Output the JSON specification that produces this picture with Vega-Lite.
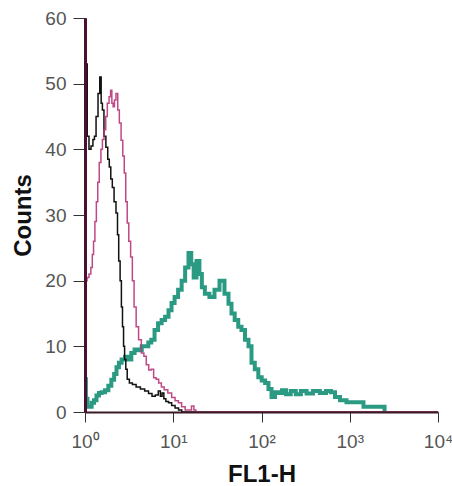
{
  "$schema": "https://vega.github.io/schema/vega-lite/v6.json",
  "autosize": {"type": "none"},
  "padding": {"left": 85, "top": 18, "right": 14, "bottom": 74},
  "width": 353,
  "height": 394,
  "background": "white",
  "config": {"view": {"stroke": null}, "font": "Liberation Sans"},
  "datasets": {
    "black": [
      {"fl": 1, "count": 0}, {"fl": 1, "count": 75}, {"fl": 1.04, "count": 53}, {"fl": 1.08, "count": 42}, {"fl": 1.14, "count": 40},
      {"fl": 1.2, "count": 40.5}, {"fl": 1.26, "count": 41.5}, {"fl": 1.3, "count": 42}, {"fl": 1.37, "count": 45}, {"fl": 1.44, "count": 48.5},
      {"fl": 1.5, "count": 51}, {"fl": 1.55, "count": 47}, {"fl": 1.6, "count": 46}, {"fl": 1.68, "count": 42}, {"fl": 1.77, "count": 40.3},
      {"fl": 1.85, "count": 38.5}, {"fl": 1.92, "count": 37.3}, {"fl": 2.0, "count": 35.5}, {"fl": 2.08, "count": 34.2}, {"fl": 2.19, "count": 32},
      {"fl": 2.3, "count": 30.3}, {"fl": 2.37, "count": 27}, {"fl": 2.45, "count": 23}, {"fl": 2.55, "count": 20}, {"fl": 2.62, "count": 16},
      {"fl": 2.7, "count": 13}, {"fl": 2.77, "count": 10}, {"fl": 2.85, "count": 8}, {"fl": 2.95, "count": 6.5}, {"fl": 3.07, "count": 5},
      {"fl": 3.3, "count": 4.4}, {"fl": 3.6, "count": 4.2}, {"fl": 4.0, "count": 3.8}, {"fl": 4.5, "count": 3.5}, {"fl": 5.0, "count": 3.2},
      {"fl": 5.5, "count": 2.8}, {"fl": 6.0, "count": 2.4}, {"fl": 6.54, "count": 2.6}, {"fl": 7.0, "count": 3.2}, {"fl": 7.3, "count": 2.4},
      {"fl": 7.65, "count": 2.9}, {"fl": 8.0, "count": 2.0}, {"fl": 8.5, "count": 1.6}, {"fl": 9.2, "count": 1.4}, {"fl": 10, "count": 1.0},
      {"fl": 11, "count": 0.6}, {"fl": 12, "count": 0.3}, {"fl": 13, "count": 0}, {"fl": 10000, "count": 0}
    ],
    "magenta": [
      {"fl": 1, "count": 0}, {"fl": 1, "count": 75}, {"fl": 1.03, "count": 20}, {"fl": 1.08, "count": 20.5}, {"fl": 1.14, "count": 21},
      {"fl": 1.19, "count": 22}, {"fl": 1.23, "count": 24}, {"fl": 1.27, "count": 26}, {"fl": 1.32, "count": 29}, {"fl": 1.37, "count": 32},
      {"fl": 1.42, "count": 35}, {"fl": 1.48, "count": 38}, {"fl": 1.55, "count": 40}, {"fl": 1.6, "count": 41.5}, {"fl": 1.685, "count": 43},
      {"fl": 1.75, "count": 45}, {"fl": 1.83, "count": 47}, {"fl": 1.92, "count": 48}, {"fl": 1.98, "count": 49}, {"fl": 2.05, "count": 47},
      {"fl": 2.12, "count": 46.5}, {"fl": 2.19, "count": 47.5}, {"fl": 2.3, "count": 48.5}, {"fl": 2.4, "count": 46}, {"fl": 2.5, "count": 44},
      {"fl": 2.63, "count": 41.4}, {"fl": 2.73, "count": 39}, {"fl": 2.84, "count": 36.4}, {"fl": 2.95, "count": 32}, {"fl": 3.07, "count": 28.8},
      {"fl": 3.2, "count": 26}, {"fl": 3.38, "count": 23.6}, {"fl": 3.5, "count": 20}, {"fl": 3.7, "count": 16}, {"fl": 3.9, "count": 13},
      {"fl": 4.2, "count": 11}, {"fl": 4.5, "count": 9}, {"fl": 4.8, "count": 8.5}, {"fl": 5.1, "count": 7.2}, {"fl": 5.45, "count": 6.4},
      {"fl": 5.8, "count": 6.5}, {"fl": 6.2, "count": 5.2}, {"fl": 6.6, "count": 5.0}, {"fl": 7.08, "count": 4.4}, {"fl": 7.6, "count": 3.8},
      {"fl": 8.2, "count": 3.4}, {"fl": 9.19, "count": 2.9}, {"fl": 10, "count": 2.2}, {"fl": 11, "count": 1.7}, {"fl": 11.9, "count": 1.4},
      {"fl": 13, "count": 0.8}, {"fl": 14.3, "count": 0.3}, {"fl": 15.5, "count": 0.3}, {"fl": 16.7, "count": 0.9}, {"fl": 17.6, "count": 0.3},
      {"fl": 18.5, "count": 0}, {"fl": 10000, "count": 0}
    ],
    "teal": [
      {"fl": 1, "count": 5}, {"fl": 1.05, "count": 2}, {"fl": 1.08, "count": 0.8}, {"fl": 1.15, "count": 0.8}, {"fl": 1.23, "count": 1.4},
      {"fl": 1.3, "count": 1.8}, {"fl": 1.4, "count": 2.5}, {"fl": 1.48, "count": 2.9}, {"fl": 1.6, "count": 3.0}, {"fl": 1.78, "count": 3.3},
      {"fl": 1.9, "count": 4}, {"fl": 2.08, "count": 4.9}, {"fl": 2.2, "count": 5.8}, {"fl": 2.35, "count": 6.8}, {"fl": 2.5, "count": 7.5},
      {"fl": 2.7, "count": 8}, {"fl": 3.0, "count": 8.4}, {"fl": 3.2, "count": 8.0}, {"fl": 3.5, "count": 9}, {"fl": 3.8, "count": 9.5},
      {"fl": 4.2, "count": 9.4}, {"fl": 4.6, "count": 10}, {"fl": 5.04, "count": 10}, {"fl": 5.4, "count": 10.6}, {"fl": 5.89, "count": 11},
      {"fl": 6.4, "count": 12.5}, {"fl": 7.08, "count": 13.5}, {"fl": 7.7, "count": 14}, {"fl": 8.49, "count": 14.5}, {"fl": 9.2, "count": 15.5},
      {"fl": 9.94, "count": 16.6}, {"fl": 10.8, "count": 17.5}, {"fl": 11.93, "count": 18.6}, {"fl": 13, "count": 20}, {"fl": 14.3, "count": 22},
      {"fl": 15.5, "count": 24.2}, {"fl": 16.5, "count": 22.5}, {"fl": 17.6, "count": 20.5}, {"fl": 19.1, "count": 23}, {"fl": 20.5, "count": 21},
      {"fl": 21.7, "count": 19}, {"fl": 24, "count": 18}, {"fl": 27.5, "count": 17.5}, {"fl": 31.3, "count": 18.6}, {"fl": 35.7, "count": 20},
      {"fl": 40.6, "count": 18}, {"fl": 44, "count": 16.5}, {"fl": 47.5, "count": 15}, {"fl": 52, "count": 14}, {"fl": 57.1, "count": 13},
      {"fl": 61.7, "count": 12.5}, {"fl": 68.5, "count": 11}, {"fl": 74.1, "count": 10}, {"fl": 80.1, "count": 7.5}, {"fl": 88, "count": 6.5},
      {"fl": 96.2, "count": 5.3}, {"fl": 105, "count": 4.8}, {"fl": 115, "count": 4.4}, {"fl": 125, "count": 3.5}, {"fl": 135, "count": 2.3},
      {"fl": 150, "count": 3.0}, {"fl": 162, "count": 2.9}, {"fl": 180, "count": 3.3}, {"fl": 200, "count": 2.7}, {"fl": 230, "count": 3.2},
      {"fl": 260, "count": 2.7}, {"fl": 300, "count": 3.2}, {"fl": 350, "count": 2.8}, {"fl": 420, "count": 3.2}, {"fl": 500, "count": 2.9},
      {"fl": 580, "count": 3.2}, {"fl": 646, "count": 3.0}, {"fl": 717, "count": 2.3}, {"fl": 839, "count": 1.8}, {"fl": 1006, "count": 1.5},
      {"fl": 1306, "count": 1.5}, {"fl": 1567, "count": 0.8}, {"fl": 2000, "count": 0.8}, {"fl": 2450, "count": 0.8}, {"fl": 2512, "count": 0}
    ]
  },
  "encoding": {
    "x": {
      "field": "fl", "type": "quantitative",
      "scale": {"type": "log", "domain": [1, 10000], "nice": false},
      "axis": {
        "title": "FL1-H", "titleFontSize": 24, "titleFontWeight": "bold", "titleColor": "#111", "titlePadding": 11,
        "values": [1, 10, 100, 1000, 10000], "grid": false, "zindex": 1,
        "labelExpr": "'10' + ['⁰','¹','²','³','⁴'][round(log(datum.value)/LN10)]",
        "labelFontSize": 19, "labelColor": "#555", "labelPadding": 10, "labelFlush": false,
        "tickSize": 10, "tickColor": "#333", "domainColor": "#3a1a25", "domainWidth": 2
      }
    },
    "y": {
      "field": "count", "type": "quantitative",
      "scale": {"domain": [0, 60], "nice": false},
      "axis": {
        "title": "Counts", "titleFontSize": 24, "titleFontWeight": "bold", "titleColor": "#111", "titlePadding": 9,
        "values": [0, 10, 20, 30, 40, 50, 60], "grid": false, "zindex": 1,
        "labelFontSize": 19, "labelColor": "#555", "labelPadding": 7,
        "tickSize": 12, "tickColor": "#333", "domainColor": "#4a1030", "domainWidth": 3
      }
    }
  },
  "layer": [
    {"data": {"name": "teal"}, "mark": {"type": "line", "interpolate": "step", "clip": true, "color": "#2a9a82", "strokeWidth": 4}},
    {"data": {"name": "black"}, "mark": {"type": "line", "interpolate": "step", "clip": true, "color": "#111111", "strokeWidth": 1.5}},
    {"data": {"name": "magenta"}, "mark": {"type": "line", "interpolate": "step", "clip": true, "color": "#b8357a", "strokeWidth": 1.5, "opacity": 0.9}}
  ]
}
